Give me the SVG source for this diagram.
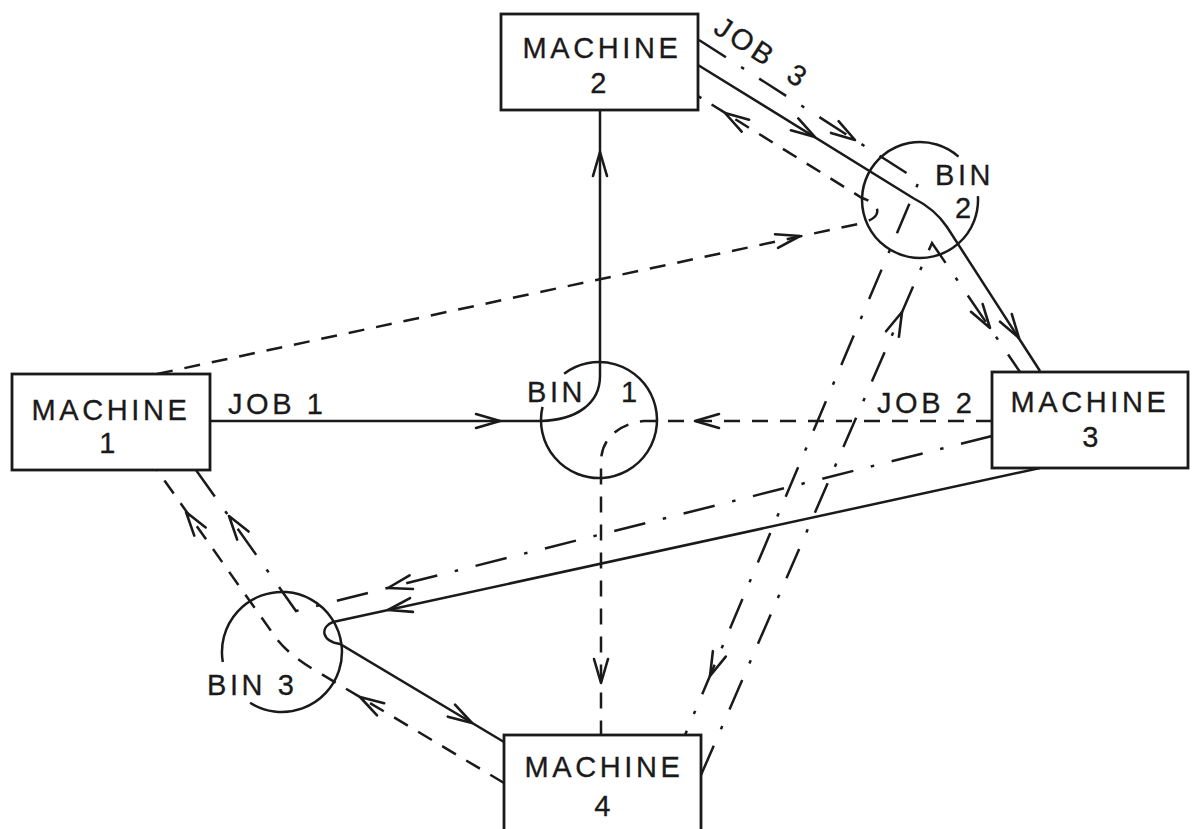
<svg xmlns="http://www.w3.org/2000/svg" width="1195" height="829" viewBox="0 0 1195 829">
<style>
.box{fill:#fff;stroke:#1a1a1a;stroke-width:2.8}
.bin{fill:none;stroke:#1a1a1a;stroke-width:2.5}
.t{font-family:"Liberation Sans",Arial,sans-serif;font-size:29px;fill:#1a1a1a;stroke:#1a1a1a;stroke-width:0.3;letter-spacing:3.6px}
.tm{text-anchor:middle}
.c{fill:none;stroke:#1a1a1a;stroke-width:2.5}
.dash{stroke-dasharray:16 12}
.dd{stroke-dasharray:32 18 3.5 18}
.ah{fill:none;stroke:#1a1a1a;stroke-width:2.6;stroke-linecap:round;stroke-linejoin:round}
</style>
<defs>
<path id="ah" d="M-24 -7 L0 0 L-24 7"/>
</defs>
<rect width="1195" height="829" fill="#fff"/>

<g id="connectors">
  <!-- JOB 1: solid -->
  <path class="c" d="M 210 421 L 541 421 C 576 420 600 404 600 376 L 600 110"/>
  <path class="c" d="M 698 65 L 913 198 Q 935 209 947 227 L 1040 371"/>
  <path class="c" d="M 1040 468 L 333 622 C 320 627 321 641 340 644 L 504 742"/>
  <!-- JOB 2: dashed -->
  <path class="c dash" d="M 992 421 L 644 421 C 617 424 601 440 601 462 L 601 735"/>
  <path class="c dash" d="M 504 783 L 318 672 C 300 662 285 650 276 638 L 157 470"/>
  <path class="c dash" d="M 157 374 L 858 224 C 884 219 882 204 862 198 L 698 96"/>
  <!-- JOB 3: dash-dot -->
  <path class="c dd" d="M 699 40 L 919 181 L 685 735"/>
  <path class="c dd" d="M 701 775 L 932 243 L 1020 372"/>
  <path class="c dd" d="M 992 436 L 296 611 L 196 470"/>
  <!-- arrowheads -->
  <use href="#ah" class="ah" transform="translate(500 421) rotate(0)"/>
  <use href="#ah" class="ah" transform="translate(600 152) rotate(-90)"/>
  <use href="#ah" class="ah" transform="translate(815 137) rotate(31.7)"/>
  <use href="#ah" class="ah" transform="translate(855 140) rotate(32.7)"/>
  <use href="#ah" class="ah" transform="translate(725 113) rotate(211.9)"/>
  <use href="#ah" class="ah" transform="translate(800 236) rotate(-12.2)"/>
  <use href="#ah" class="ah" transform="translate(695 421) rotate(180)"/>
  <use href="#ah" class="ah" transform="translate(601 683) rotate(90)"/>
  <use href="#ah" class="ah" transform="translate(388 610) rotate(168.1)"/>
  <use href="#ah" class="ah" transform="translate(388 588) rotate(165.9)"/>
  <use href="#ah" class="ah" transform="translate(229 516) rotate(-125.3)"/>
  <use href="#ah" class="ah" transform="translate(186 512) rotate(-125.6)"/>
  <use href="#ah" class="ah" transform="translate(360 697) rotate(-149.2)"/>
  <use href="#ah" class="ah" transform="translate(472 723) rotate(30.9)"/>
  <use href="#ah" class="ah" transform="translate(710 676) rotate(112.9)"/>
  <use href="#ah" class="ah" transform="translate(902 312) rotate(-66.6)"/>
  <use href="#ah" class="ah" transform="translate(990 328) rotate(56.7)"/>
  <use href="#ah" class="ah" transform="translate(1019 338) rotate(57)"/>
  <!-- connector labels -->
  <text class="t" x="228" y="414">JOB 1</text>
  <text class="t" x="877" y="413">JOB 2</text>
  <text class="t" transform="translate(712 32) rotate(33)">JOB<tspan dx="8"> 3</tspan></text>
</g>

<g id="machine1">
  <rect class="box" x="12" y="374" width="198" height="96"/>
  <text class="t tm" x="111" y="420">MACHINE</text>
  <text class="t tm" x="109" y="453">1</text>
</g>
<g id="machine2">
  <rect class="box" x="501" y="14" width="197" height="96"/>
  <text class="t tm" x="602" y="58">MACHINE</text>
  <text class="t tm" x="600" y="93">2</text>
</g>
<g id="machine3">
  <rect class="box" x="992" y="372" width="196" height="96"/>
  <text class="t tm" x="1090" y="412">MACHINE</text>
  <text class="t tm" x="1092" y="447">3</text>
</g>
<g id="machine4">
  <rect class="box" x="504" y="735" width="197" height="110"/>
  <text class="t tm" x="604" y="777">MACHINE</text>
  <text class="t tm" x="604" y="816">4</text>
</g>

<g id="bin1">
  <path class="bin" d="M 564.1 373.7 A 58 58 0 1 1 542.5 406.9"/>
  <text class="t" x="527" y="402">BIN <tspan x="621">1</tspan></text>
</g>
<g id="bin2">
  <path class="bin" d="M 977.9 196.2 A 58 58 0 1 1 958.5 156.6"/>
  <text class="t" x="935" y="185">BIN</text>
  <text class="t" x="955" y="218">2</text>
</g>
<g id="bin3">
  <path class="bin" d="M 222.8 662 A 60 60 0 1 1 250.1 702.8"/>
  <text class="t" x="207" y="695">BIN 3</text>
</g>
</svg>
